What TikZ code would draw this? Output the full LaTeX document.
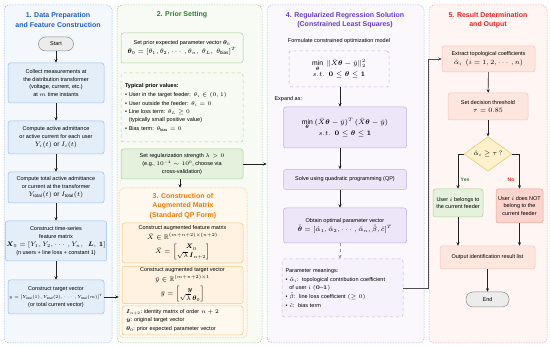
\RequirePackage{fix-cm}
\documentclass[tikz,border=0pt]{standalone}
\usepackage{fontspec}
\setmainfont{Liberation Sans}
\usepackage{amsmath,amssymb}
\usetikzlibrary{arrows.meta,shapes.geometric}

\definecolor{bluebg}{HTML}{F4F8FD}
\definecolor{blueline}{HTML}{9BBDE6}
\definecolor{bluebox}{HTML}{E4EEF9}
\definecolor{bluetitle}{HTML}{1F5FBF}
\definecolor{greenbg}{HTML}{F7FBF4}
\definecolor{greenline}{HTML}{A9D096}
\definecolor{greenbox}{HTML}{F6FAF2}
\definecolor{greenfill}{HTML}{E5F1DD}
\definecolor{greentitle}{HTML}{2E7D32}
\definecolor{orangebg}{HTML}{FFF8EE}
\definecolor{orangeline}{HTML}{F5C684}
\definecolor{orangebox}{HTML}{FFF2E0}
\definecolor{orangetitle}{HTML}{EC7A08}
\definecolor{purplebg}{HTML}{FAF7FD}
\definecolor{purpleline}{HTML}{C2AEE3}
\definecolor{purplebox}{HTML}{EDE5F8}
\definecolor{purpletitle}{HTML}{6A3DC4}
\definecolor{redbg}{HTML}{FFF6F4}
\definecolor{redline}{HTML}{F3A7A3}
\definecolor{redbox}{HTML}{FDE6DD}
\definecolor{redtitle}{HTML}{E52222}
\definecolor{decfill}{HTML}{FDF1CB}
\definecolor{decline}{HTML}{E7C46E}
\definecolor{nofill}{HTML}{FBD4CE}
\definecolor{noline}{HTML}{E8A197}
\definecolor{pillfill}{HTML}{ECECEC}
\definecolor{pillline}{HTML}{8A8A8A}
\definecolor{arrcol}{HTML}{222222}

% larger size for formula lines
\newcommand{\mline}[1]{{\fontsize{6.5}{8.5}\selectfont#1}}

\begin{document}
\begin{tikzpicture}[x=1pt,y=-1pt,
  txt/.style={font=\fontsize{5.5}{7.8}\selectfont, align=center},
  big/.style={font=\fontsize{6.8}{10}\selectfont, align=center},
  box/.style={txt, draw, rounded corners=2.5pt, line width=0.5pt, inner sep=1pt},
  panel/.style={draw, rounded corners=5pt, dash pattern=on 1.6pt off 1pt, line width=0.5pt},
  ttl/.style={font=\fontsize{7}{9.5}\selectfont\bfseries, align=center},
  pill/.style={box, rounded corners=7pt, fill=pillfill, draw=pillline},
  arr/.style={-{Stealth[length=3.5pt,width=3pt]}, line width=0.6pt, draw=arrcol}]
  \useasboundingbox (0,0) rectangle (550,347);

  % panels
  \node[panel, draw=blueline, fill=bluebg, minimum width=108pt, minimum height=338pt] (p1) at (58,174) {};
  \node[panel, draw=greenline, fill=greenbg, minimum width=145pt, minimum height=338pt] (p2) at (189.5,174) {};
  \node[panel, draw=orangeline, fill=orangebg, minimum width=128pt, minimum height=150pt] (p3) at (183,263) {};
  \node[panel, draw=purpleline, fill=purplebg, minimum width=157pt, minimum height=338pt] (p4) at (345.5,174) {};
  \node[panel, draw=redline, fill=redbg, minimum width=118pt, minimum height=338pt] (p5) at (488,174) {};

  % 1. data preparation
  \node[ttl, text=bluetitle] (t1) at (58,20) {1. Data Preparation\\and Feature Construction};
  \node[pill, minimum width=35pt, minimum height=14pt] (start) at (56,44) {Start};
  \node[box, draw=blueline, fill=bluebox, minimum width=96pt, minimum height=40pt] (meas) at (56,83)
    {Collect measurements at\\the distribution transformer\\(voltage, current, etc.)\\at $m$ time instants};
  \node[box, draw=blueline, fill=bluebox, minimum width=96pt, minimum height=33pt] (user) at (56,137.5)
    {Compute active admittance\\or active current for each user\\\mline{$Y_i(t)$ or $I_i(t)$}};
  \node[box, draw=blueline, fill=bluebox, minimum width=96pt, minimum height=31pt] (total) at (56,187.5)
    {Compute total active admittance\\or current at the transformer\\\mline{$Y_{\mathrm{total}}(t)$ or $I_{\mathrm{total}}(t)$}};
  \node[box, draw=blueline, fill=bluebox, minimum width=96pt, minimum height=40pt] (feat) at (56,241)
    {Construct time-series\\feature matrix\\\mline{$\boldsymbol{X}_0=[Y_1,Y_2,\cdots,Y_n,\ \ \boldsymbol{L},\,\boldsymbol{1}]$}\\(n users + line loss + constant 1)};
  \node[box, draw=blueline, fill=bluebox, minimum width=96pt, minimum height=34pt] (target) at (56,297)
    {Construct target vector\\{\fontsize{4.4}{7}\selectfont$y=[Y_{\mathrm{total}}(1),Y_{\mathrm{total}}(2),\cdots,Y_{\mathrm{total}}(m)]^T$}\\(or total current vector)};
  \draw[arr] (start) -- (meas);
  \draw[arr] (meas) -- (user);
  \draw[arr] (user) -- (total);
  \draw[arr] (total) -- (feat);
  \draw[arr] (feat) -- (target);
  \draw[arr] (target.east) -- (target.east -| p3.west);

  % 2. prior setting
  \node[ttl, text=greentitle] (t2) at (182,15) {2. Prior Setting};
  \node[box, draw=greenline, fill=greenbox, minimum width=122pt, minimum height=30pt] (prior) at (182,48)
    {Set prior expected parameter vector $\boldsymbol{\theta}_0$\\[1pt]\mline{$\boldsymbol{\theta}_0=[\theta_1,\theta_2,\cdots,\theta_n,\ \theta_L,\ \theta_{\mathrm{bias}}]^T$}};
  \node[box, dashed, draw=greenline, fill=greenbox, align=left, minimum width=122pt, minimum height=69pt, text width=114pt] (typ) at (182,107.5)
    {\textbf{Typical prior values:}\\[1pt]
     \textbullet\ User in the target feeder: $\theta_i\in(0,1)$\\[1pt]
     \textbullet\ User outside the feeder: $\theta_i=0$\\[1pt]
     \textbullet\ Line loss term: $\theta_L\geq0$\\
     \hspace*{1.3ex}(typically small positive value)\\[1pt]
     \textbullet\ Bias term: $\theta_{\mathrm{bias}}=0$};
  \node[box, draw=greenline, fill=greenfill, minimum width=122pt, minimum height=30pt] (lambda) at (182,164)
    {Set regularization strength $\lambda>0$\\(e.g., $10^{-4}\sim10^{0}$, choose via\\cross-validation)};
  \draw[arr] (lambda.south -| 180,0) -- (p3.north -| 180,0);
  \draw[arr] (lambda.east) -- (lambda.east -| p4.west);

  % 3. augmented matrix
  \node[ttl, text=orangetitle] (t3) at (183,206) {3. Construction of\\Augmented Matrix\\(Standard QP Form)};
  \node[box, draw=orangeline, fill=orangebox, minimum width=121pt, minimum height=40pt] (augx) at (182.5,243)
    {Construct augmented feature matrix\\[2pt]\mline{$\bar{X}\in\mathbb{R}^{(m+n+2)\times(n+2)}$}\\[2pt]
     \mline{$\bar{X}=\begin{bmatrix}\boldsymbol{X}_0\\ \sqrt{\lambda}\,\boldsymbol{I}_{n+2}\end{bmatrix}$}};
  \node[box, draw=orangeline, fill=orangebox, minimum width=121pt, minimum height=36pt] (augy) at (182.5,285)
    {Construct augmented target vector\\[2pt]\mline{$\bar{y}\in\mathbb{R}^{(m+n+2)\times1}$}\\[2pt]
     \mline{$\bar{y}=\begin{bmatrix}\boldsymbol{y}\\ \sqrt{\lambda}\,\boldsymbol{\theta}_0\end{bmatrix}$}};
  \node[box, draw=orangeline, fill=orangebg, align=left, minimum width=121pt, minimum height=29pt, text width=113pt] (notes) at (182.5,320.5)
    {$\boldsymbol{I}_{n+2}$:\ identity matrix of order $n+2$\\[1pt]
     $\boldsymbol{y}$:\ original target vector\\[1pt]
     $\boldsymbol{\theta}_0$:\ prior expected parameter vector};

  % 4. regression solution
  \node[ttl, text=purpletitle] (t4) at (345,20) {4. Regularized Regression Solution\\(Constrained Least Squares)};
  \node[txt] (form) at (339,41) {Formulate constrained optimization model};
  \node[box, big, dashed, draw=purpleline, fill=purplebg, minimum width=100pt, minimum height=36pt] (model) at (339,69)
    {$\min\limits_{\boldsymbol{\theta}}\ \|\bar{X}\boldsymbol{\theta}-\bar{y}\|_2^2$\\
     $s.t.\ \ \boldsymbol{0}\leq\boldsymbol{\theta}\leq\boldsymbol{1}$};
  \node[txt, anchor=west] (expand) at (271,99) {Expand as:};
  \node[box, big, draw=purpleline, fill=purplebox, minimum width=123pt, minimum height=41pt] (qp) at (345,127.5)
    {$\min\limits_{\boldsymbol{\theta}}\ (\bar{X}\boldsymbol{\theta}-\bar{y})^T\,(\bar{X}\boldsymbol{\theta}-\bar{y})$\\
     $s.t.\ \ \boldsymbol{0}\leq\boldsymbol{\theta}\leq\boldsymbol{1}$};
  \node[box, draw=purpleline, fill=purplebox, minimum width=123pt, minimum height=20pt] (solve) at (345,179.5)
    {Solve using quadratic programming (QP)};
  \node[box, draw=purpleline, fill=purplebox, minimum width=123pt, minimum height=35pt] (opt) at (345,225.5)
    {Obtain optimal parameter vector\\[1pt]{\fontsize{6.6}{9}\selectfont$\hat{\boldsymbol{\theta}}=[\hat{\alpha}_1,\hat{\alpha}_2,\cdots,\hat{\alpha}_n,\hat{\beta},\hat{c}]^T$}};
  \node[box, dashed, draw=purpleline, fill=purplebox!50, align=left, minimum width=121pt, minimum height=58pt, text width=114pt] (mean) at (342.5,288)
    {Parameter meanings:\\[1pt]
     \textbullet\ $\hat{\alpha}_i$:\ \ topological contribution coefficient\\
     \hspace*{1.3ex}of user $i$\ $(\boldsymbol{0\text{--}1})$\\[1pt]
     \textbullet\ $\hat{\beta}$:\ \ line loss coefficient\ $(\geq0)$\\[1pt]
     \textbullet\ $\hat{c}$:\ \ bias term};
  \draw[arr] (model.south -| 340,0) -- (qp.north -| 340,0);
  \draw[arr] (qp.south -| 340,0) -- (solve.north -| 340,0);
  \draw[arr] (solve.south -| 340,0) -- (opt.north -| 340,0);
  \draw[arr, draw=purpleline!80!black, dashed] (opt.south -| 340,0) -- (mean.north -| 340,0);

  % 5. result
  \node[ttl, text=redtitle] (t5) at (488,20) {5. Result Determination\\and Output};
  \node[box, draw=redline!70, fill=redbox, minimum width=93pt, minimum height=26pt] (coef) at (488.5,59)
    {Extract topological coefficients\\[1pt]\mline{$\hat{\alpha}_i\ \ (i=1,2,\cdots,n)$}};
  \node[box, draw=redline!70, fill=redbox, minimum width=80pt, minimum height=27pt] (thr) at (488,106.5)
    {Set decision threshold\\[1pt]\mline{$\tau=0.85$}};
  \node[diamond, txt, draw=decline, fill=decfill, line width=0.5pt, inner sep=0pt, minimum width=48pt, minimum height=32pt] (dec) at (488,154)
    {\mline{$\hat{\alpha}_i\geq\tau\,?$}};
  \node[box, draw=greenline, fill=greenfill, minimum width=50pt, minimum height=28pt] (yes) at (458,203)
    {User $i$ belongs to\\the current feeder};
  \node[box, draw=noline, fill=nofill, minimum width=47pt, minimum height=34pt] (no) at (519.5,206)
    {User $i$ does NOT\\belong to the\\current feeder};
  \node[box, draw=redline!70, fill=redbox, minimum width=95pt, minimum height=23pt] (out) at (487.5,257.5)
    {Output identification result list};
  \node[pill, minimum width=43pt, minimum height=15pt] (end) at (487.5,299.5) {End};
  \node[txt, font=\fontsize{5}{6}\selectfont\bfseries, text=greentitle] (ylbl) at (465,180) {Yes};
  \node[txt, font=\fontsize{5}{6}\selectfont\bfseries, text=redtitle] (nlbl) at (511,180) {No};
  \draw[arr, draw=arrcol!80] (mean.east) -- (mean.east -| p5.west) |- (coef.west);
  \draw[arr] (coef) -- (thr);
  \draw[arr] (thr) -- (dec);
  \draw[arr] (dec.west) -| (yes.north);
  \draw[arr] (dec.east) -| (no.north);
  \draw[arr] (yes.south) -- (yes.south |- out.north);
  \draw[arr] (no.south) -- (no.south |- out.north);
  \draw[arr] (out) -- (end);
\end{tikzpicture}
\end{document}
